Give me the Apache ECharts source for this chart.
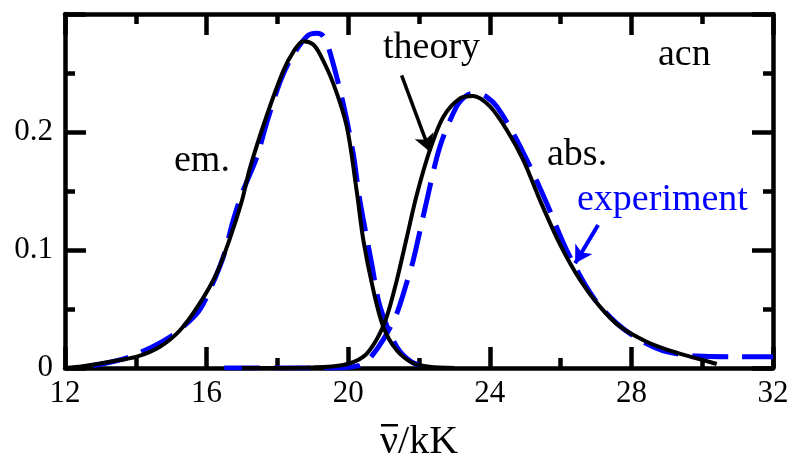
<!DOCTYPE html>
<html>
<head>
<meta charset="utf-8">
<script src="https://cdn.jsdelivr.net/npm/echarts@6/dist/echarts.min.js"></script>
<style>
  html, body { margin: 0; padding: 0; background: #fff; }
  #chart { width: 793px; height: 461px; }
</style>
</head>
<body>
<div id="chart"></div>
<script>
// Line shapes in wavenumber (kK) vs normalized intensity, acetonitrile
const emTheory = [
  [12.0, 0.0], [12.5, 0.0015], [13.27, 0.0053], [14.03, 0.0096], [14.68, 0.018],
  [15.25, 0.032], [15.81, 0.055], [16.28, 0.080], [16.66, 0.110], [17.0, 0.142],
  [17.23, 0.170], [17.70, 0.214], [18.17, 0.252], [18.45, 0.268], [18.73, 0.277],
  [19.0, 0.2745], [19.20, 0.266], [19.58, 0.241], [19.96, 0.2045], [20.24, 0.150],
  [20.43, 0.108], [20.71, 0.066], [20.99, 0.035], [21.37, 0.015], [21.84, 0.004],
  [22.3, 0.001], [23.0, 0.0]
];
const emExperiment = [
  [12.8, 0.002], [13.84, 0.0096], [14.97, 0.0265], [15.72, 0.046], [16.0, 0.060],
  [16.47, 0.094], [16.75, 0.125], [17.0, 0.148], [17.41, 0.178], [17.70, 0.208],
  [18.07, 0.242], [18.36, 0.261], [18.83, 0.281], [19.11, 0.2836], [19.30, 0.281],
  [19.49, 0.267], [19.86, 0.224], [20.14, 0.182], [20.33, 0.142], [20.66, 0.089],
  [20.90, 0.052], [21.37, 0.018], [21.8, 0.005], [22.3, 0.0]
];
const absTheory = [
  [17.0, 0.0], [19.0, 0.0005], [19.86, 0.0025], [20.43, 0.0096], [20.80, 0.024],
  [21.09, 0.0435], [21.37, 0.074], [21.65, 0.110], [21.93, 0.146], [22.31, 0.185],
  [22.69, 0.213], [23.16, 0.2285], [23.53, 0.2305], [24.01, 0.2215], [24.48, 0.2017],
  [24.95, 0.176], [25.42, 0.142], [25.98, 0.105], [26.55, 0.0746], [27.11, 0.052],
  [27.68, 0.035], [28.43, 0.0223], [29.18, 0.0138], [29.84, 0.0082], [30.41, 0.0034]
];
const absExperiment = [
  [16.5, 0.0], [19.6, 0.0], [20.3, 0.002], [20.57, 0.0068], [20.99, 0.024],
  [21.37, 0.046], [21.65, 0.072], [21.84, 0.0915], [22.22, 0.142], [22.59, 0.1875],
  [23.06, 0.2215], [23.35, 0.231], [23.63, 0.2333], [23.9, 0.230], [24.20, 0.2215],
  [24.66, 0.199], [25.14, 0.1706], [25.61, 0.1395], [26.17, 0.100], [26.92, 0.060],
  [27.58, 0.038], [28.24, 0.0237], [28.99, 0.0138], [29.84, 0.0102], [31.07, 0.0096],
  [32.0, 0.0096]
];
const xRange = [12, 32];
const yRange = [0, 0.3];
const xStep = { major: 4, minor: 2 };
const yStep = { major: 0.1, minor: 0.05 };
const yTickLabels = ['0', '0.1', '0.2'];

// Annotation arrows (data coordinates: start -> tip)
const theoryArrow = [[21.51, 0.248], [22.31, 0.1833]];
const experimentArrow = [[27.06, 0.1212], [26.41, 0.0887]];

const FONT = '"Liberation Serif", "Times New Roman", serif';
const BLUE = '#0000ff';
const FRAME_W = 4.5;
const PLOT = { left: 65, top: 14, width: 708, height: 354 };
const OPPOSITE = { bottom: 'top', top: 'bottom', left: 'right', right: 'left' };

// Frame edge: the visible axis line on one side of the plot.
function edgeAxis(dim, side, extra) {
  const range = dim === 'x' ? xRange : yRange;
  const step = dim === 'x' ? xStep : yStep;
  return Object.assign({
    type: 'value', position: side, min: range[0], max: range[1], interval: step.major,
    axisLine: { show: true, onZero: false, lineStyle: { color: '#000', width: FRAME_W } },
    axisTick: { show: false },
    axisLabel: { show: false },
    splitLine: { show: false }
  }, extra || {});
}

// Tick row for one side: an axis anchored on the opposite side and shifted
// across the plot, so its outward ticks point into the plot area.
function tickAxis(dim, side, isMajor) {
  const range = dim === 'x' ? xRange : yRange;
  const step = dim === 'x' ? xStep : yStep;
  const span = dim === 'x' ? PLOT.height : PLOT.width;
  return {
    type: 'value', position: OPPOSITE[side], offset: -span,
    min: range[0], max: range[1], interval: isMajor ? step.major : step.minor,
    axisLine: { show: false, onZero: false },
    axisTick: { show: true, inside: false, length: isMajor ? 21 : 10, lineStyle: { color: '#000', width: FRAME_W } },
    axisLabel: { show: false },
    splitLine: { show: false }
  };
}

const chart = echarts.init(document.getElementById('chart'), null, { renderer: 'canvas' });
chart.setOption({
  animation: false,
  backgroundColor: '#fff',
  grid: Object.assign({ outerBoundsMode: 'none', containLabel: false }, PLOT),
  xAxis: [
    edgeAxis('x', 'bottom', {
      axisLabel: { show: true, margin: 10, color: '#000', fontFamily: FONT, fontSize: 31 },
      name: 'ν/kK', nameLocation: 'middle', nameGap: 54,
      nameTextStyle: { color: '#000', fontFamily: FONT, fontSize: 40 }
    }),
    edgeAxis('x', 'top'),
    tickAxis('x', 'bottom', true),
    tickAxis('x', 'bottom', false),
    tickAxis('x', 'top', true),
    tickAxis('x', 'top', false)
  ],
  yAxis: [
    edgeAxis('y', 'left', {
      axisLabel: {
        show: true, margin: 12, color: '#000', fontFamily: FONT, fontSize: 31,
        formatter: function (v) {
          const i = Math.round(v * 10);
          return i < yTickLabels.length ? yTickLabels[i] : '';
        }
      }
    }),
    edgeAxis('y', 'right'),
    tickAxis('y', 'left', true),
    tickAxis('y', 'left', false),
    tickAxis('y', 'right', true),
    tickAxis('y', 'right', false)
  ],
  series: [
    {
      type: 'line', data: emExperiment, showSymbol: false, smooth: 0.3,
      lineStyle: { color: BLUE, width: 5, type: [36, 14] }, z: 2
    },
    {
      type: 'line', data: absExperiment, showSymbol: false, smooth: 0.3,
      lineStyle: { color: BLUE, width: 5, type: [36, 14] }, z: 2,
      markLine: {
        silent: true, symbol: ['none', 'arrow'], symbolSize: [15, 17],
        label: { show: false },
        lineStyle: { color: BLUE, width: 4, type: 'solid' },
        data: [[{ coord: experimentArrow[0] }, { coord: experimentArrow[1] }]]
      }
    },
    {
      type: 'line', data: emTheory, showSymbol: false, smooth: 0.3,
      lineStyle: { color: '#000', width: 4 }, z: 3
    },
    {
      type: 'line', data: absTheory, showSymbol: false, smooth: 0.3,
      lineStyle: { color: '#000', width: 4 }, z: 3,
      markLine: {
        silent: true, symbol: ['none', 'arrow'], symbolSize: [15, 17],
        label: { show: false },
        lineStyle: { color: '#000', width: 3.5, type: 'solid' },
        data: [[{ coord: theoryArrow[0] }, { coord: theoryArrow[1] }]]
      }
    }
  ],
  graphic: [
    // bar over the nu of the axis title
    { type: 'rect', shape: { x: 381, y: 424, width: 17, height: 2.5 }, style: { fill: '#000' } },
    { type: 'text', x: 383, y: 48, style: { text: 'theory', fill: '#000', fontFamily: FONT, fontSize: 38, verticalAlign: 'middle' } },
    { type: 'text', x: 658, y: 55, style: { text: 'acn', fill: '#000', fontFamily: FONT, fontSize: 38, verticalAlign: 'middle' } },
    { type: 'text', x: 547, y: 155, style: { text: 'abs.', fill: '#000', fontFamily: FONT, fontSize: 38, verticalAlign: 'middle' } },
    { type: 'text', x: 577, y: 200, style: { text: 'experiment', fill: BLUE, fontFamily: FONT, fontSize: 38, verticalAlign: 'middle' } },
    { type: 'text', x: 174, y: 161, style: { text: 'em.', fill: '#000', fontFamily: FONT, fontSize: 38, verticalAlign: 'middle' } }
  ]
});
</script>
</body>
</html>
